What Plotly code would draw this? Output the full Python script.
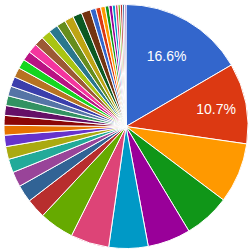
import plotly.graph_objects as go

values = [16.6, 10.7, 8.0, 6.1, 5.7, 5.2, 5.1, 4.6, 2.6, 2.3,
          2.0, 1.8, 1.7, 1.5, 1.3,
          1.3, 1.3, 1.3, 1.3, 1.3, 1.3, 1.25, 1.25, 1.25, 1.25,
          1.25, 1.25, 1.2, 1.2, 1.2, 1.2,
          0.75, 0.65, 0.6, 0.5, 0.45, 0.4, 0.35, 0.3, 0.3, 0.25, 0.2]
categories = [f"Item {i+1}" for i in range(len(values))]
labels_text = ["16.6%", "10.7%"] + [""] * (len(values) - 2)

palette = ["#3366cc", "#dc3912", "#ff9900", "#109618", "#990099", "#0099c6",
           "#dd4477", "#66aa00", "#b82e2e", "#316395", "#994499", "#22aa99",
           "#aaaa11", "#6633cc", "#e67300", "#8b0707", "#651067", "#329262",
           "#5574a6", "#3b3eac", "#b77322", "#16d620", "#b91383", "#f4359e",
           "#9c5935", "#a9c413", "#2a778d", "#668d1c", "#bea413", "#0c5922",
           "#743411"]
colors = [palette[i % len(palette)] for i in range(len(values))]

fig = go.Figure(go.Pie(
    labels=categories,
    values=values,
    text=labels_text,
    textinfo="text",
    textposition="inside",
    insidetextorientation="horizontal",
    sort=False,
    direction="clockwise",
    rotation=0,
    marker=dict(colors=colors, line=dict(color="white", width=1)),
    textfont=dict(family="Liberation Sans, Arial, sans-serif", size=14, color="white"),
    showlegend=False,
))
fig.update_layout(
    width=251, height=252,
    margin=dict(l=4, r=3, t=4, b=3),
    paper_bgcolor="white",
    plot_bgcolor="white",
)
fig.write_html("out.html", config={"displayModeBar": False},
               post_script="document.body.style.margin='0';")
